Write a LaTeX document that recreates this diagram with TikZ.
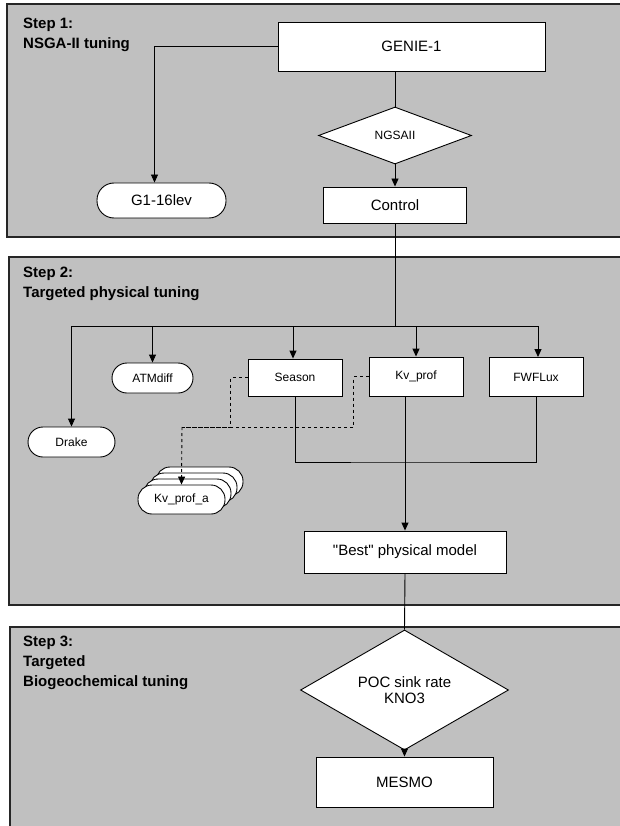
\documentclass[tikz,border=0pt]{standalone}
\usepackage{fontspec}
\setmainfont{Liberation Sans}
\newfontfamily\plainquote{Liberation Sans}
\usetikzlibrary{arrows.meta,shapes.geometric,shadows}
\definecolor{panelgray}{RGB}{192,192,192}
\tikzstyle{stepbox} = [draw=black!85, fill=panelgray, line width=1.4pt]
\tikzstyle{steptitle} = [anchor=west, align=left, inner sep=0pt,
    font=\fontsize{15}{20}\selectfont\bfseries]
\tikzstyle{procbox} = [draw=black, fill=white, line width=0.9pt, inner sep=0pt,
    rectangle, font=\fontsize{15}{17}\selectfont]
\tikzstyle{smallbox} = [procbox, font=\fontsize{12}{14}\selectfont]
\tikzstyle{termbox} = [smallbox, rounded corners=15pt]
\tikzstyle{decision} = [draw=black, fill=white, line width=0.9pt, inner sep=0pt,
    diamond, align=center, font=\fontsize{15}{15.7}\selectfont]
\tikzstyle{flowline} = [line width=0.9pt, draw=black]
\tikzstyle{flowarrow} = [flowline, -{Triangle[length=8pt,width=7pt]}]
\tikzstyle{dashline} = [flowline, dashed]

\begin{document}
\begin{tikzpicture}[x=1pt, y=-1pt]
    \useasboundingbox (0,0) rectangle (620,826);
    % the three tuning steps
    \draw[stepbox] (7,4) rectangle (640,237);
    \draw[stepbox] (9,257) rectangle (640,605);
    \draw[stepbox] (10,627) rectangle (640,850);
    \node[steptitle] at (23,35) {Step 1:\\NSGA-II tuning};
    \node[steptitle] at (23,283.5) {Step 2:\\Targeted physical tuning};
    \node[steptitle] at (23,663) {Step 3:\\Targeted\\Biogeochemical tuning};

    % step 1
    \node[procbox, minimum width=267pt, minimum height=49pt] (genie) at (411.5,46.5) {GENIE-1};
    \node[decision, minimum width=153pt, minimum height=57pt,
        font=\fontsize{12}{14}\selectfont] (ngsa) at (395,135.5) {NGSAII};
    \node[procbox, minimum width=143pt, minimum height=36pt] (control) at (395,205) {Control};
    \node[procbox, rounded corners=17pt, minimum width=129pt, minimum height=35pt] (g1lev) at (161.5,200.5) {G1-16lev};

    \draw[flowarrow] (genie.west) -| ([xshift=-7pt]g1lev.north);
    \draw[flowline] (ngsa.north |- genie.south) -- (ngsa.north);
    \draw[flowarrow] (ngsa.south) -- (control.north);

    % step 2
    \coordinate (hub) at (395,326);
    \node[termbox, minimum width=87pt, minimum height=30pt] (drake) at (71.5,442) {Drake};
    \node[termbox, minimum width=81pt, minimum height=30pt] (atmdiff) at (152.5,378) {ATMdiff};
    \node[smallbox, minimum width=94pt, minimum height=37pt] (season) at (295,377.5) {Season};
    \node[smallbox, minimum width=94pt, minimum height=39pt] (kvprof) at (416,376.5) {Kv\_prof};
    \node[smallbox, minimum width=94pt, minimum height=39pt] (fwflux) at (536,377) {FWFLux};
    \node[termbox, rounded corners=14pt, minimum width=87pt, minimum height=29pt,
        copy shadow={shadow xshift=18pt, shadow yshift=18pt, draw=black, fill=white},
        copy shadow={shadow xshift=12pt, shadow yshift=12pt, draw=black, fill=white},
        copy shadow={shadow xshift=6pt, shadow yshift=6pt, draw=black, fill=white}]
        (kvpa) at (181.5,499.5) {Kv\_prof\_a};
    \node[procbox, minimum width=202pt, minimum height=42pt] (best) at (405,552) {\plainquote "Best" physical model};

    \draw[flowline] (control.south) -- (hub);
    \draw[flowarrow] (hub) -| (drake.north);
    \draw[flowarrow] (hub) -| (atmdiff.north);
    \draw[flowarrow] (hub) -| ([xshift=-2pt]season.north);
    \draw[flowarrow] (hub) -| (kvprof.north);
    \draw[flowarrow] (hub) -| ([xshift=2pt]fwflux.north);

    \coordinate (join) at (405,462);
    \draw[flowline] (season.south) |- (join) -| (fwflux.south);
    \draw[flowline] (join |- kvprof.south) -- (join);
    \draw[flowarrow] (join) -- (best.north);

    \coordinate (dsplit) at (182,427);
    \draw[dashline] (season.west) -- ++(-17,0) |- (dsplit);
    \draw[dashline] (kvprof.west) -- ++(-15,0) |- (dsplit);
    \draw[dashline, -{Triangle[length=8pt,width=7pt]}] (dsplit) -- (kvpa.north);

    % step 3
    \node[decision, minimum width=208pt, minimum height=74pt] (poc) at (404.5,690) {POC sink rate\\KNO3};
    \node[procbox, minimum width=177pt, minimum height=50pt] (mesmo) at (404.5,782) {MESMO};

    \draw[flowline] (best.south) -- (poc.north);
    \draw[flowarrow] (poc.south) -- (mesmo.north);
\end{tikzpicture}
\end{document}
